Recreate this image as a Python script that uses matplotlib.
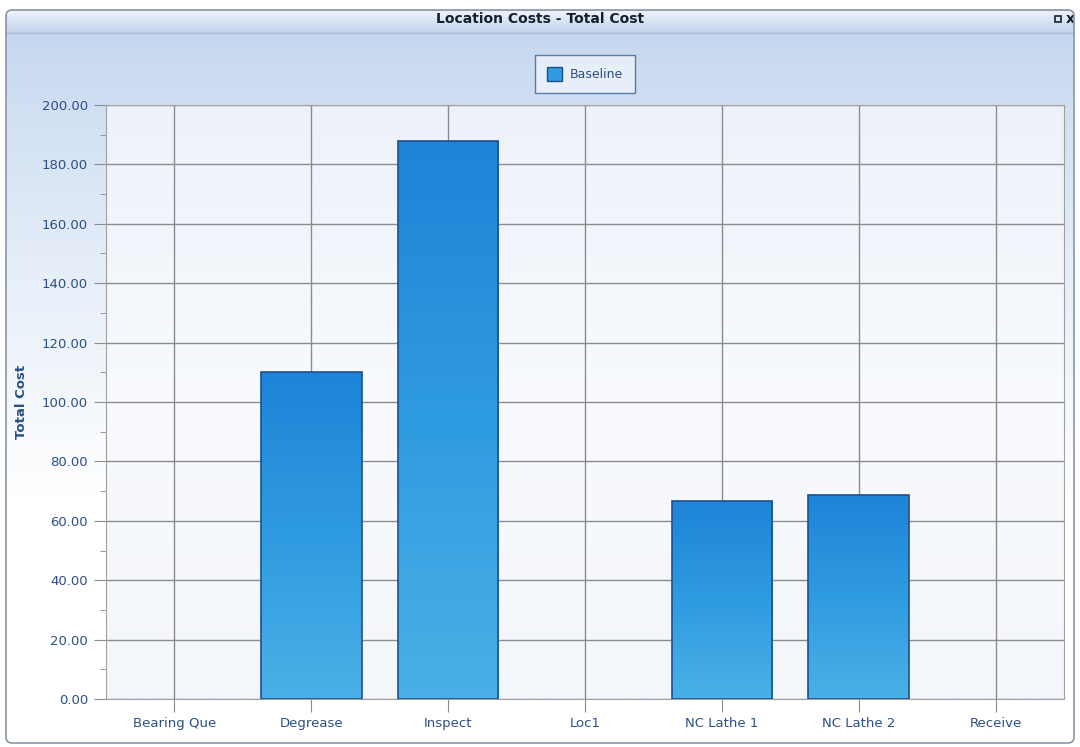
import numpy as np
import matplotlib.pyplot as plt
from matplotlib.patches import FancyBboxPatch, Rectangle

# Chart data
categories = ['Bearing Que', 'Degrease', 'Inspect', 'Loc1', 'NC Lathe 1', 'NC Lathe 2', 'Receive']
total_cost = [0, 110.0, 188.0, 0, 66.8, 68.7, 0]
y_ticks = [0, 20, 40, 60, 80, 100, 120, 140, 160, 180, 200]
series_name = 'Baseline'
title = 'Location Costs - Total Cost'

plt.rcParams['font.family'] = ['DejaVu Sans']
text_blue = '#2b4f86'

fig = plt.figure(figsize=(10.8, 7.47), dpi=100)
fig.patch.set_facecolor('white')

# background panel with the window look
bg = fig.add_axes([0, 0, 1, 1], zorder=-10)
bg.set_xlim(0, 1080)
bg.set_ylim(747, 0)
bg.axis('off')

grad = np.linspace(0, 1, 256).reshape(-1, 1)
bg_cmap = plt.matplotlib.colors.LinearSegmentedColormap.from_list(
    'bgc', ['#c3d6ef', '#e4edf8', '#ffffff', '#ffffff'])
frame = FancyBboxPatch((6, 10), 1068, 733, boxstyle='round,pad=0,rounding_size=6',
                       facecolor='none', edgecolor='#8a96a6', lw=1.2, zorder=5)
bg.add_patch(frame)
img = bg.imshow(grad, extent=[6, 1074, 743, 10], aspect='auto', cmap=bg_cmap, zorder=1)
img.set_clip_path(frame)

# title bar
tb_cmap = plt.matplotlib.colors.LinearSegmentedColormap.from_list(
    'tbc', ['#eef3fb', '#d6e2f2', '#c2d4ea'])
tb = bg.imshow(grad, extent=[7, 1073, 33, 11], aspect='auto', cmap=tb_cmap, zorder=2)
tb.set_clip_path(frame)
bg.plot([7, 1073], [33, 33], color='#a9bcd6', lw=1, zorder=3)
bg.text(540, 19, title, ha='center', va='center', fontsize=10,
        fontweight='bold', color='#15202e', zorder=4)
bg.add_patch(Rectangle((1055, 16), 6, 6, facecolor='none', edgecolor='#15202e', lw=1.2, zorder=4))
bg.text(1066, 19, 'x', ha='left', va='center', fontsize=10, fontweight='bold',
        color='#15202e', zorder=4)

# main plot area
ax = fig.add_axes([106 / 1080, 48 / 747, 958 / 1080, 594 / 747])
x = np.arange(len(categories))

pa_cmap = plt.matplotlib.colors.LinearSegmentedColormap.from_list(
    'pac', ['#edf2fa', '#f8fafd', '#f3f6fb'])
ax.imshow(grad, extent=[-0.5, len(categories) - 0.5, 0, 200], aspect='auto',
          cmap=pa_cmap, zorder=0)

ax.grid(True, color='#8c8c8c', lw=1.0, zorder=1)
ax.set_axisbelow(True)

bars = ax.bar(x, total_cost, width=0.735, facecolor='none', edgecolor='#1f4f8f',
              lw=1.2, zorder=3)
bar_cmap = plt.matplotlib.colors.LinearSegmentedColormap.from_list(
    'barc', ['#1e84d8', '#2f9be0', '#4ab0e6'])
for b in bars:
    if b.get_height() <= 0:
        b.set_linewidth(0)
        continue
    bi = ax.imshow(grad, extent=[b.get_x(), b.get_x() + b.get_width(), 0, b.get_height()],
                   aspect='auto', cmap=bar_cmap, zorder=2)
    bi.set_clip_path(b)
ax.set_xlim(-0.5, len(categories) - 0.5)
ax.set_ylim(0, 200)

ax.set_xticks(x)
ax.set_xticklabels(categories)
ax.set_yticks(y_ticks)
ax.set_yticklabels(['%.2f' % v for v in y_ticks])
ax.set_yticks(np.arange(10, 200, 20), minor=True)
ax.tick_params(axis='both', which='both', colors='#8c8c8c', labelcolor=text_blue, labelsize=9.5)
ax.tick_params(axis='x', length=9, pad=4)
ax.tick_params(axis='y', which='major', length=9, pad=4)
ax.tick_params(axis='y', which='minor', length=4)
for s in ax.spines.values():
    s.set_color('#a0a0a0')

ax.set_ylabel('Total Cost', fontsize=9.5, fontweight='bold', color=text_blue, labelpad=10)

leg = ax.legend([bars], [series_name], loc='center',
                bbox_to_anchor=(585 / 1080, 1 - 74 / 747),
                bbox_transform=fig.transFigure, fontsize=9, frameon=True, fancybox=False,
                handlelength=1.2, handleheight=1.3, borderpad=0.95, handletextpad=0.6,
                borderaxespad=0)
leg.get_frame().set_edgecolor('#3a5f95')
leg.get_frame().set_facecolor('#eef3fb')
leg.get_frame().set_linewidth(1.0)
leg.legend_handles[0].set_facecolor('#2f9be0')
leg.legend_handles[0].set_edgecolor('#1f4f8f')
leg.legend_handles[0].set_linewidth(1.0)
for t in leg.get_texts():
    t.set_color(text_blue)

fig.savefig('out.png', dpi=100)
